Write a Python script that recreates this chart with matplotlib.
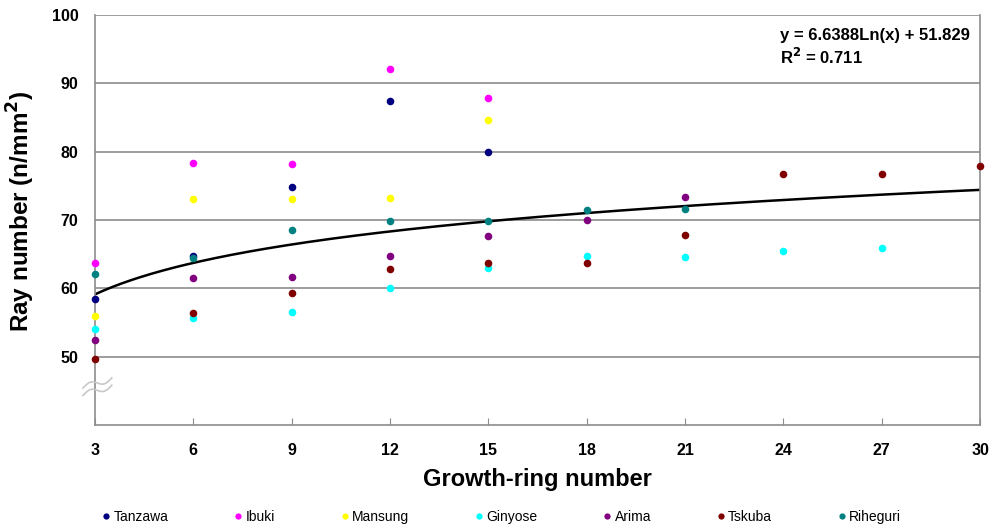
import numpy as np
import matplotlib
matplotlib.use("Agg")
import matplotlib.pyplot as plt
from matplotlib.lines import Line2D

plt.rcParams['font.family'] = ['Liberation Sans', 'DejaVu Sans']

# ---- data ----
series_names = ["Tanzawa", "Ibuki", "Mansung", "Ginyose", "Arima", "Tskuba", "Riheguri"]
series_colors = ["#000080", "#FF00FF", "#FFFF00", "#00FFFF", "#800080", "#800000", "#008080"]

tanzawa_x = [3, 6, 9, 12, 15]
tanzawa_y = [58.4, 64.8, 74.9, 87.4, 80.0]
ibuki_x = [3, 6, 9, 12, 15]
ibuki_y = [63.7, 78.3, 78.2, 92.1, 87.8]
mansung_x = [3, 6, 9, 12, 15]
mansung_y = [55.9, 73.0, 73.0, 73.2, 84.6]
ginyose_x = [3, 6, 9, 12, 15, 18, 21, 24, 27]
ginyose_y = [54.1, 55.7, 56.5, 60.0, 63.0, 64.7, 64.6, 65.4, 65.9]
arima_x = [3, 6, 9, 12, 15, 18, 21]
arima_y = [52.4, 61.5, 61.6, 64.8, 67.6, 70.0, 73.4]
tskuba_x = [3, 6, 9, 12, 15, 18, 21, 24, 27, 30]
tskuba_y = [49.6, 56.4, 59.3, 62.9, 63.7, 63.7, 67.8, 76.7, 76.7, 77.9]
riheguri_x = [3, 6, 9, 12, 15, 18, 21]
riheguri_y = [62.1, 64.5, 68.5, 69.8, 69.8, 71.5, 71.6]

series_x = [tanzawa_x, ibuki_x, mansung_x, ginyose_x, arima_x, tskuba_x, riheguri_x]
series_y = [tanzawa_y, ibuki_y, mansung_y, ginyose_y, arima_y, tskuba_y, riheguri_y]

trend_a = 6.6388
trend_b = 51.829
r_squared = 0.711

x_ticks = [3, 6, 9, 12, 15, 18, 21, 24, 27, 30]
y_ticks = [50, 60, 70, 80, 90, 100]

# ---- figure ----
fig = plt.figure(figsize=(9.95, 5.31), dpi=100)
ax = fig.add_axes([0.0955, 0.1996, 0.8895, 0.7722])
ax.set_xlim(3, 30)
ax.set_ylim(40, 100)

grid_color = "#8c8c8c"
for yv in y_ticks:
    ax.axhline(yv, color=grid_color, lw=1.2, zorder=1)

for sp in ax.spines.values():
    sp.set_color(grid_color)
    sp.set_linewidth(1.2)
ax.spines['top'].set_visible(False)

# trend line
xt = np.linspace(3, 30, 300)
ax.plot(xt, trend_a * np.log(xt) + trend_b, color="black", lw=1.8, zorder=2)

# points
for xs, ys, c, n in zip(series_x, series_y, series_colors, series_names):
    ax.scatter(xs, ys, s=30, color=c, zorder=4, clip_on=False, linewidths=0, label=n)

ax.set_xticks(x_ticks)
ax.set_yticks(y_ticks)
ax.tick_params(axis='x', direction='in', length=5, color=grid_color, pad=13, labelsize=11.5)
ax.tick_params(axis='y', length=0, pad=12, labelsize=11.5)
for lab in ax.get_xticklabels() + ax.get_yticklabels():
    lab.set_fontweight('bold')

ax.set_xlabel("Growth-ring number", fontsize=17, fontweight='bold', labelpad=7)
ax.set_ylabel("Ray number (n/mm$^\\mathbf{2}$)", fontsize=17.5, fontweight='bold')
ax.yaxis.set_label_coords(-0.066, 0.52)

# equation
ax.text(0.774, 0.951, "y = %.4fLn(x) + %.3f" % (trend_a, trend_b), transform=ax.transAxes,
        fontsize=12, fontweight='bold', va='center', ha='left')
ax.text(0.774, 0.897, "R$^\\mathbf{2}$ = %.3f" % r_squared, transform=ax.transAxes,
        fontsize=12, fontweight='bold', va='center', ha='left')

# axis break symbol
t = np.linspace(0, 1, 60)
for off in (0.0, 0.018):
    bx = -0.0136 + 0.0325 * t
    by = 0.072 + off + 0.025 * t + 0.008 * np.sin(2 * np.pi * t)
    ax.plot(bx, by, transform=ax.transAxes, color="#c8c8c8", lw=1.2,
            clip_on=False, zorder=5)

# legend
handles = [Line2D([0], [0], marker='o', linestyle='', markersize=4.5,
                  markerfacecolor=c, markeredgewidth=0) for c in series_colors]
fig.legend(handles, series_names, loc='center', bbox_to_anchor=(0.5045, 0.026),
           ncol=7, frameon=False, fontsize=10, handlelength=0.5,
           handletextpad=0.3, columnspacing=4.75)

fig.savefig("out.png", dpi=100)
